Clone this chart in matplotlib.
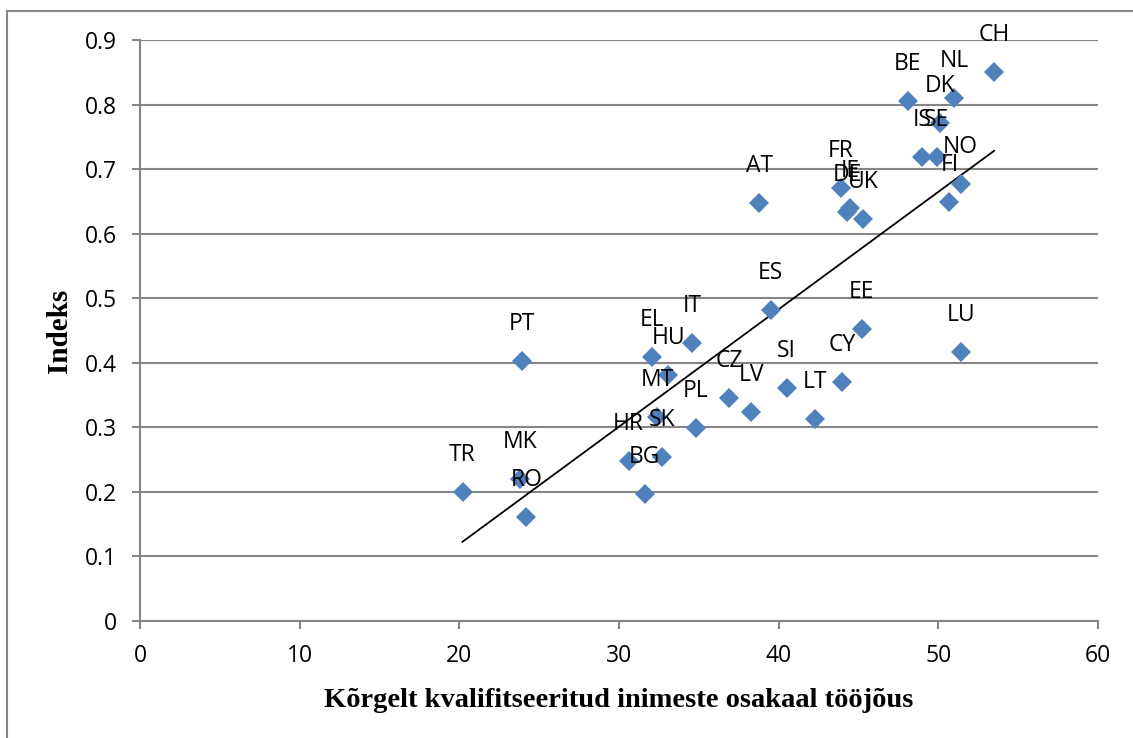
import numpy as np
import matplotlib.pyplot as plt
from matplotlib.lines import Line2D

# - DATA - #
countries = ["TR", "MK", "RO", "PT", "BG", "HR", "SK", "MT", "EL", "HU", "IT", "PL",
             "CZ", "LV", "SI", "LT", "CY", "EE", "ES", "LU", "AT", "FR", "DE", "IE",
             "UK", "BE", "NL", "DK", "CH", "IS", "SE", "NO", "FI"]
share = [20.2, 23.8, 24.2, 23.9, 31.6, 30.6, 32.7, 32.4, 32.1, 33.1, 34.6, 34.8,
         36.9, 38.3, 40.5, 42.3, 44.0, 45.2, 39.5, 51.4, 38.8, 43.9, 44.3, 44.5,
         45.3, 48.1, 51.0, 50.1, 53.5, 49.0, 49.9, 51.4, 50.7]
index = [0.200, 0.220, 0.161, 0.403, 0.197, 0.248, 0.254, 0.316, 0.409, 0.381, 0.431, 0.299,
         0.345, 0.324, 0.361, 0.313, 0.371, 0.452, 0.482, 0.417, 0.647, 0.671, 0.634, 0.640,
         0.623, 0.805, 0.810, 0.771, 0.850, 0.719, 0.719, 0.677, 0.649]
xticks = [0, 10, 20, 30, 40, 50, 60]
yticks = [0, 0.1, 0.2, 0.3, 0.4, 0.5, 0.6, 0.7, 0.8, 0.9]

grid = "#868686"
blue = "#4F81BD"

fig = plt.figure(figsize=(11.33, 7.38), dpi=100)
ax = fig.add_axes([0.1236, 0.1585, 0.8454, 0.7873])

# linear trendline
x = np.array(share)
y = np.array(index)
k, b = np.polyfit(x, y, 1)
xt = np.array([x.min(), x.max()])
ax.plot(xt, k * xt + b, color="black", lw=1.3, zorder=2)

ax.plot(share, index, "D", color=blue, markersize=10, markeredgewidth=0, zorder=3)
for c, xv, yv in zip(countries, share, index):
    ax.annotate(c, (xv, yv), xytext=(0, 37), textcoords="offset pixels",
                ha="center", va="center", fontsize=16.5, family="Open Sans", zorder=4)

ax.set_xlim(0, 60)
ax.set_ylim(0, 0.9)
ax.set_xticks(xticks)
ax.set_yticks(yticks)
ax.set_xticklabels([str(t) for t in xticks])
ax.set_yticklabels(["0"] + ["%.1f" % t for t in yticks[1:]])
ax.yaxis.grid(True, color=grid, lw=1.5)
ax.set_axisbelow(True)
for s in ["top", "right"]:
    ax.spines[s].set_visible(False)
for s in ["left", "bottom"]:
    ax.spines[s].set_color(grid)
    ax.spines[s].set_linewidth(1.5)
ax.tick_params(direction="out", length=5.8, width=1.5, color=grid, labelsize=16.5, pad=11)
for lbl in ax.get_xticklabels() + ax.get_yticklabels():
    lbl.set_family("Open Sans")

ax.set_xlabel("Kõrgelt kvalifitseeritud inimeste osakaal tööjõus", family="Liberation Serif",
              fontsize=20.5, fontweight="bold", labelpad=14)
ax.set_ylabel("Indeks", family="Liberation Serif", fontsize=21, fontweight="bold", labelpad=8)

# outer chart border (top and left visible)
fig.add_artist(Line2D([7 / 1133, 1], [1 - 11 / 738, 1 - 11 / 738], color=grid, lw=1.5))
fig.add_artist(Line2D([7 / 1133, 7 / 1133], [0, 1 - 11 / 738], color=grid, lw=1.5))

plt.savefig("out.png", dpi=100)
